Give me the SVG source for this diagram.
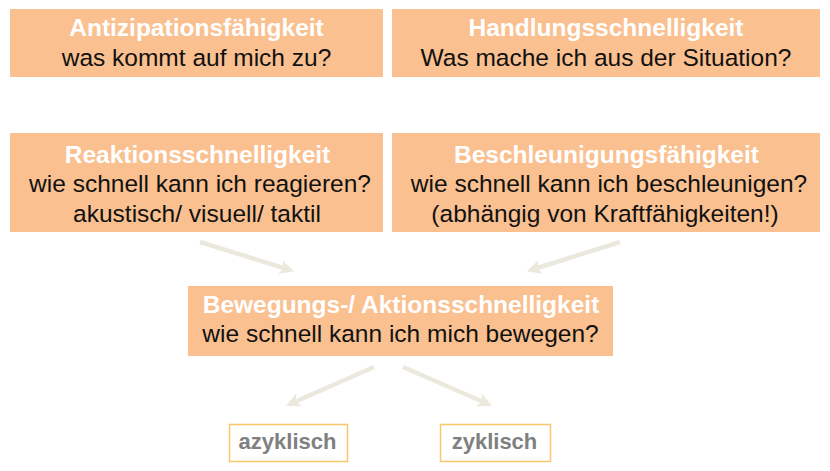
<svg xmlns="http://www.w3.org/2000/svg" width="830" height="471" viewBox="0 0 830 471">
<style>
.box{fill:#FAC090;}
.out{fill:#ffffff;stroke:#FAC76E;stroke-width:1.5;}
text{font-family:"Liberation Sans",Arial,sans-serif;font-size:24.5px;text-anchor:middle;}
.t{font-weight:bold;fill:#ffffff;}
.s{fill:#111111;}
.g{font-weight:bold;fill:#808080;font-size:22px;}
.c{stroke:#EBE9DE;stroke-width:4.5;fill:none;marker-end:url(#ah);}
</style>
<defs>
<marker id="ah" viewBox="0 0 10 10" refX="7" refY="5" markerWidth="3.2" markerHeight="3.2" orient="auto" markerUnits="strokeWidth">
<path d="M0,0 L10,5 L0,10 L2.5,5 Z" fill="#EBE9DE"/>
</marker>
</defs>
<rect width="830" height="471" fill="#ffffff"/>
<g id="connectors">
<line class="c" x1="200" y1="242" x2="290" y2="270"/>
<line class="c" x1="620" y1="242" x2="531" y2="270"/>
<line class="c" x1="374" y1="367" x2="290" y2="404"/>
<line class="c" x1="403" y1="367" x2="488" y2="404"/>
</g>
<g id="antizipation">
<rect class="box" x="10" y="9" width="373" height="68"/>
<text class="t" x="196.5" y="36">Antizipationsfähigkeit</text>
<text class="s" x="196.5" y="66">was kommt auf mich zu?</text>
</g>
<g id="handlung">
<rect class="box" x="392" y="9" width="428" height="68"/>
<text class="t" x="606" y="36">Handlungsschnelligkeit</text>
<text class="s" x="606" y="66">Was mache ich aus der Situation?</text>
</g>
<g id="reaktion">
<rect class="box" x="10" y="133" width="373" height="99"/>
<text class="t" x="197.5" y="163">Reaktionsschnelligkeit</text>
<text class="s" x="200" y="192">wie schnell kann ich reagieren?</text>
<text class="s" x="197" y="221.5">akustisch/ visuell/ taktil</text>
</g>
<g id="beschleunigung">
<rect class="box" x="392" y="133" width="428" height="99"/>
<text class="t" x="606.5" y="163">Beschleunigungsfähigkeit</text>
<text class="s" x="609" y="192">wie schnell kann ich beschleunigen?</text>
<text class="s" x="605" y="221.5">(abhängig von Kraftfähigkeiten!)</text>
</g>
<g id="bewegung">
<rect class="box" x="188" y="286" width="425" height="70"/>
<text class="t" x="401" y="313">Bewegungs-/ Aktionsschnelligkeit</text>
<text class="s" x="400.5" y="342">wie schnell kann ich mich bewegen?</text>
</g>
<g id="azyklisch">
<rect class="out" x="229.5" y="424.5" width="118" height="37"/>
<text class="g" x="287.5" y="449">azyklisch</text>
</g>
<g id="zyklisch">
<rect class="out" x="440.5" y="424.5" width="110" height="37"/>
<text class="g" x="494.5" y="449">zyklisch</text>
</g>
</svg>
